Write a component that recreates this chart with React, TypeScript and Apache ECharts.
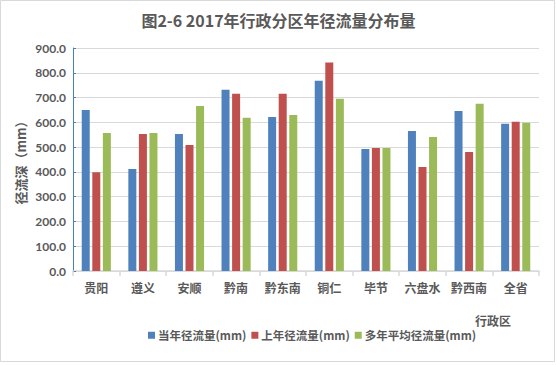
import React, { useEffect, useRef } from "react";
import * as echarts from "echarts";

const categories = ["贵阳", "遵义", "安顺", "黔南", "黔东南", "铜仁", "毕节", "六盘水", "黔西南", "全省"];
const currentYear = [650, 412, 553, 731, 622, 768, 492, 565, 646, 594];
const lastYear = [399, 553, 509, 715, 715, 841, 496, 420, 480, 602];
const multiYearAvg = [557, 557, 666, 618, 630, 695, 496, 541, 675, 598];
const seriesNames = ["当年径流量(mm)", "上年径流量(mm)", "多年平均径流量(mm)"];
const colors = ["#4F81BD", "#C0504D", "#9BBB59"];

const FONT = "Lato, 'Noto Sans CJK SC', sans-serif";
const CJK = "'Noto Sans CJK SC', Lato, sans-serif";

export default function App() {
  const ref = useRef<HTMLDivElement>(null);
  useEffect(() => {
    document.body.style.margin = "0";
    const chart = echarts.init(ref.current!, null, { renderer: "svg" });
    const data = [currentYear, lastYear, multiYearAvg];
    chart.setOption({
      animation: false,
      backgroundColor: "#ffffff",
      title: {
        text: "图2-6 2017年行政分区年径流量分布量",
        left: "center",
        top: 7,
        textStyle: { fontFamily: CJK, fontSize: 16, fontWeight: "bold", color: "#595959" },
      },
      grid: { left: 73, right: 18, top: 48, bottom: 94 },
      legend: {
        bottom: 19,
        left: 143,
        itemWidth: 7,
        itemHeight: 7,
        itemGap: 5,
        icon: "rect",
        textStyle: { fontFamily: CJK, fontSize: 11.5, fontWeight: "bold", color: "#595959", padding: [0, 0, 0, -2] },
        data: seriesNames,
      },
      xAxis: {
        type: "category",
        data: categories,
        axisLine: { lineStyle: { color: "#D9D9D9", width: 1.5 } },
        axisTick: { show: true, length: 5, lineStyle: { color: "#D9D9D9", width: 1.5 } },
        axisLabel: { interval: 0, fontFamily: CJK, fontSize: 12, fontWeight: "bold", color: "#595959", margin: 10 },
      },
      yAxis: {
        type: "value",
        min: 0,
        max: 900,
        interval: 100,
        name: "径流深（mm）",
        nameLocation: "middle",
        nameGap: 46,
        nameMoveOverlap: false,
        nameRotate: 90,
        nameTextStyle: { fontFamily: CJK, fontSize: 13, fontWeight: "bold", color: "#595959" },
        axisLine: { show: true, lineStyle: { color: "#4A7EBB", width: 1 } },
        axisTick: { show: true, inside: true, length: 3, lineStyle: { color: "#4A7EBB" } },
        axisLabel: {
          fontFamily: FONT,
          fontSize: 12,
          fontWeight: "bold",
          color: "#595959",
          margin: 7,
          formatter: (v: number) => v.toFixed(1),
        },
        splitLine: { lineStyle: { color: "#D9D9D9", width: 1.2 } },
      },
      series: seriesNames.map((name, i) => ({
        name,
        type: "bar",
        data: data[i],
        barWidth: 8,
        barGap: "32%",
        itemStyle: { color: colors[i] },
      })),
      graphic: [
        {
          type: "rect",
          shape: { x: 0.5, y: 0.5, width: 554, height: 361 },
          style: { fill: "none", stroke: "#D9D9D9", lineWidth: 1 },
          silent: true,
        },
        {
          type: "text",
          left: 475,
          top: 314,
          style: { text: "行政区", fontFamily: CJK, fontSize: 12, fontWeight: "bold", fill: "#595959" },
        },
      ],
    });
    return () => chart.dispose();
  }, []);
  return <div ref={ref} style={{ width: 557, height: 365 }} />;
}
